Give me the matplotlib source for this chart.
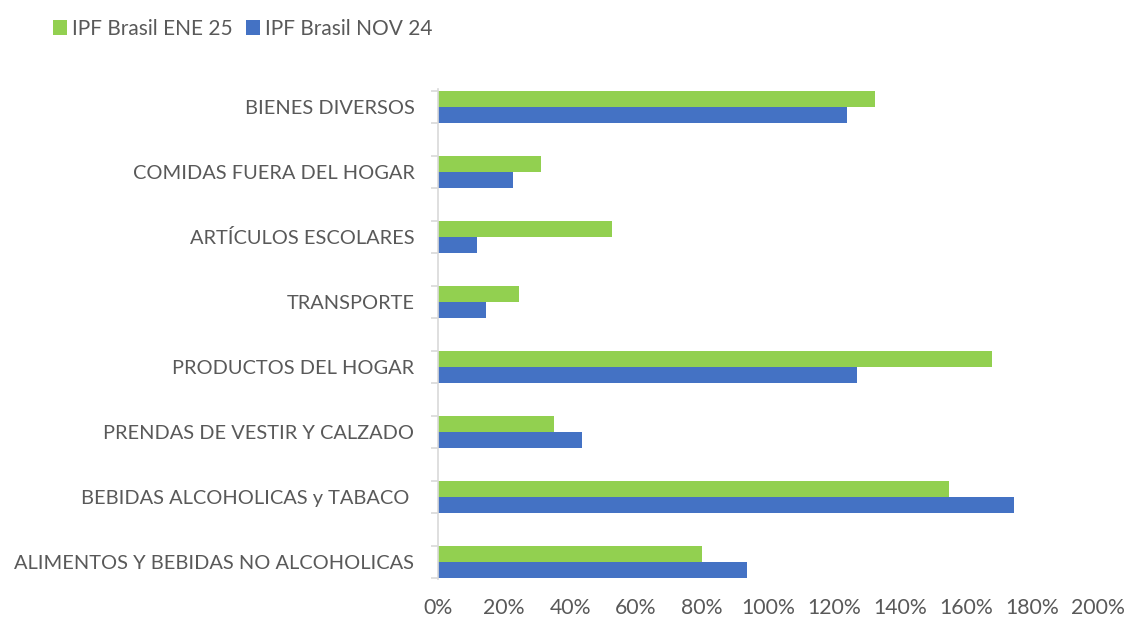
import matplotlib
matplotlib.use("Agg")
import matplotlib.pyplot as plt
import numpy as np
from matplotlib.ticker import FuncFormatter, MultipleLocator

categories = [
    "ALIMENTOS Y BEBIDAS NO ALCOHOLICAS",
    "BEBIDAS ALCOHOLICAS y TABACO ",
    "PRENDAS DE VESTIR Y CALZADO",
    "PRODUCTOS DEL HOGAR",
    "TRANSPORTE",
    "ARTÍCULOS ESCOLARES",
    "COMIDAS FUERA DEL HOGAR",
    "BIENES DIVERSOS",
]
ene25 = [0.80, 1.55, 0.35, 1.68, 0.245, 0.527, 0.312, 1.324]
nov24 = [0.936, 1.745, 0.436, 1.27, 0.145, 0.118, 0.227, 1.24]
series_names = ["IPF Brasil ENE 25", "IPF Brasil NOV 24"]

green = "#92D050"
blue = "#4472C4"
txt = "#595959"

plt.rcParams['font.family'] = ['Lato', 'DejaVu Sans']

fig = plt.figure(figsize=(11.29, 6.17), dpi=100)
ax = fig.add_axes([0.388, 0.0608, 0.5845, 0.7942])

y = np.arange(len(categories))
h = 0.25
ax.barh(y + h / 2, ene25, height=h, color=green, label=series_names[0])
ax.barh(y - h / 2, nov24, height=h, color=blue, label=series_names[1])

ax.set_xlim(0, 2.0)
ax.set_ylim(-0.27, len(categories) - 1 + 0.27)
ax.xaxis.set_major_locator(MultipleLocator(0.2))
ax.xaxis.set_major_formatter(FuncFormatter(lambda v, p: f"{v*100:.0f}%"))

ax.set_yticks(y)
ax.set_yticklabels(categories)
ax.set_yticks(np.concatenate([y - 0.25, y + 0.25]), minor=True)

for s in ["top", "right", "bottom"]:
    ax.spines[s].set_visible(False)
ax.spines["left"].set_color("#D9D9D9")
ax.spines["left"].set_linewidth(1.2)

ax.tick_params(axis="y", which="major", length=0, pad=17, labelsize=14.4, labelcolor=txt)
ax.tick_params(axis="y", which="minor", length=5, color="#D9D9D9", width=1.2)
ax.tick_params(axis="x", length=0, pad=13, labelsize=15.3, labelcolor=txt)

handles, labels = ax.get_legend_handles_labels()
leg = fig.legend(handles, labels, loc="upper left", bbox_to_anchor=(0.030, 1.0),
                 ncol=2, frameon=False, fontsize=15, handlelength=0.7,
                 handleheight=0.7, handletextpad=0.25, columnspacing=0.6)
for t in leg.get_texts():
    t.set_color(txt)

fig.savefig("out.png", dpi=100)
